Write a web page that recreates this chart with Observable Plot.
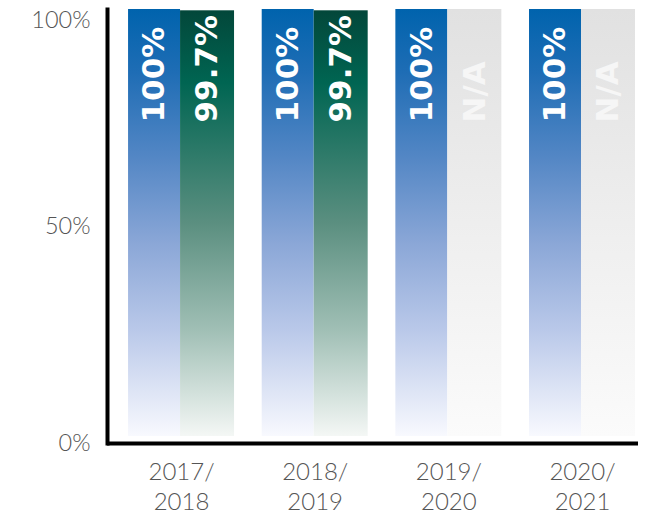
<!DOCTYPE html>
<html>
<head>
<meta charset="utf-8">
<script src="https://cdn.jsdelivr.net/npm/d3@7"></script>
<script src="https://cdn.jsdelivr.net/npm/@observablehq/plot@0.6"></script>
<style>
  html, body { margin: 0; padding: 0; background: #fff; }
</style>
</head>
<body>
<div id="chart"></div>
<script>
const groups = ["2017/2018", "2018/2019", "2019/2020", "2020/2021"];
const tickLabels = ["2017/\n2018", "2018/\n2019", "2019/\n2020", "2020/\n2021"];
const series1 = [100, 100, 100, 100];
const series2 = [99.7, 99.7, null, null];
const labels1 = ["100%", "100%", "100%", "100%"];
const labels2 = ["99.7%", "99.7%", "N/A", "N/A"];
const naPlaceholder = 100;
const yTicks = [0, 50, 100];

const rows = groups.map((g, i) => ({
  group: g, a: series1[i], b: series2[i], la: labels1[i], lb: labels2[i]
}));
const have = rows.filter(d => d.b != null);
const missing = rows.filter(d => d.b == null);

const labelFont = {fontFamily: "DejaVu Sans, sans-serif", fontWeight: "bold", fontSize: 31, rotate: -90, textAnchor: "start", lineAnchor: "middle", frameAnchor: "top", dy: 113};

const chart = Plot.plot({
  width: 650,
  height: 515,
  marginTop: 9,
  marginBottom: 72,
  marginLeft: 107,
  marginRight: 12,
  style: {fontFamily: "Lato, 'Open Sans', sans-serif", background: "#fff"},
  x: {domain: groups, paddingInner: 0.207, paddingOuter: 0.09, align: 0.875, round: false, axis: null},
  y: {domain: [0, 100], axis: null},
  marks: [
    Plot.barY(rows, {x: "group", y: "a", fill: "url(#gBlue)", insetRight: 54, insetBottom: 7}),
    Plot.barY(have, {x: "group", y: "b", fill: "url(#gGreen)", insetLeft: 52, insetBottom: 7}),
    Plot.barY(missing, {x: "group", y: () => naPlaceholder, fill: "url(#gGray)", insetLeft: 52, insetBottom: 7}),
    Plot.text(rows, {x: "group", text: "la", fill: "white", dx: -27, ...labelFont}),
    Plot.text(have, {x: "group", text: "lb", fill: "white", dx: 26, ...labelFont}),
    Plot.text(missing, {x: "group", text: "lb", fill: "#f6f6f6", dx: 26, ...labelFont}),
    Plot.ruleY([0], {stroke: "#000", strokeWidth: 4}),
    Plot.frame({anchor: "left", stroke: "#000", strokeWidth: 4}),
    Plot.axisX({tickSize: 0, tickPadding: 15, tickFormat: d => tickLabels[groups.indexOf(d)], fontSize: 24, lineHeight: 1.25, fill: "#555", fontWeight: 300, label: null}),
    Plot.text(yTicks.filter(t => t < 100), {y: d => d, text: d => d + "%", frameAnchor: "left", textAnchor: "end", lineAnchor: "middle", dx: -17, fontSize: 23.5, fill: "#555", fontWeight: 300}),
    Plot.text(yTicks.filter(t => t === 100), {y: d => d, text: d => d + "%", frameAnchor: "left", textAnchor: "end", lineAnchor: "top", dx: -17, dy: 2, fontSize: 23.5, fill: "#555", fontWeight: 300})
  ]
});

const ns = "http://www.w3.org/2000/svg";
const defs = document.createElementNS(ns, "defs");
defs.innerHTML = `
  <linearGradient id="gBlue" x1="0" y1="0" x2="0" y2="1">
    <stop offset="0" stop-color="#0063ad"/>
    <stop offset="0.15" stop-color="#1f6db5"/>
    <stop offset="0.35" stop-color="#5487c5"/>
    <stop offset="0.55" stop-color="#8ba7d7"/>
    <stop offset="0.75" stop-color="#b9c8e9"/>
    <stop offset="1" stop-color="#f8f9fe"/>
  </linearGradient>
  <linearGradient id="gGreen" x1="0" y1="0" x2="0" y2="1">
    <stop offset="0" stop-color="#03473a"/>
    <stop offset="0.17" stop-color="#006552"/>
    <stop offset="0.5" stop-color="#5b8f80"/>
    <stop offset="0.75" stop-color="#a0bfb5"/>
    <stop offset="1" stop-color="#f4f7f5"/>
  </linearGradient>
  <linearGradient id="gGray" x1="0" y1="0" x2="0" y2="1">
    <stop offset="0" stop-color="#e1e1e1"/>
    <stop offset="1" stop-color="#fbfbfb"/>
  </linearGradient>`;
chart.insertBefore(defs, chart.firstChild);
document.getElementById("chart").appendChild(chart);
</script>
</body>
</html>
